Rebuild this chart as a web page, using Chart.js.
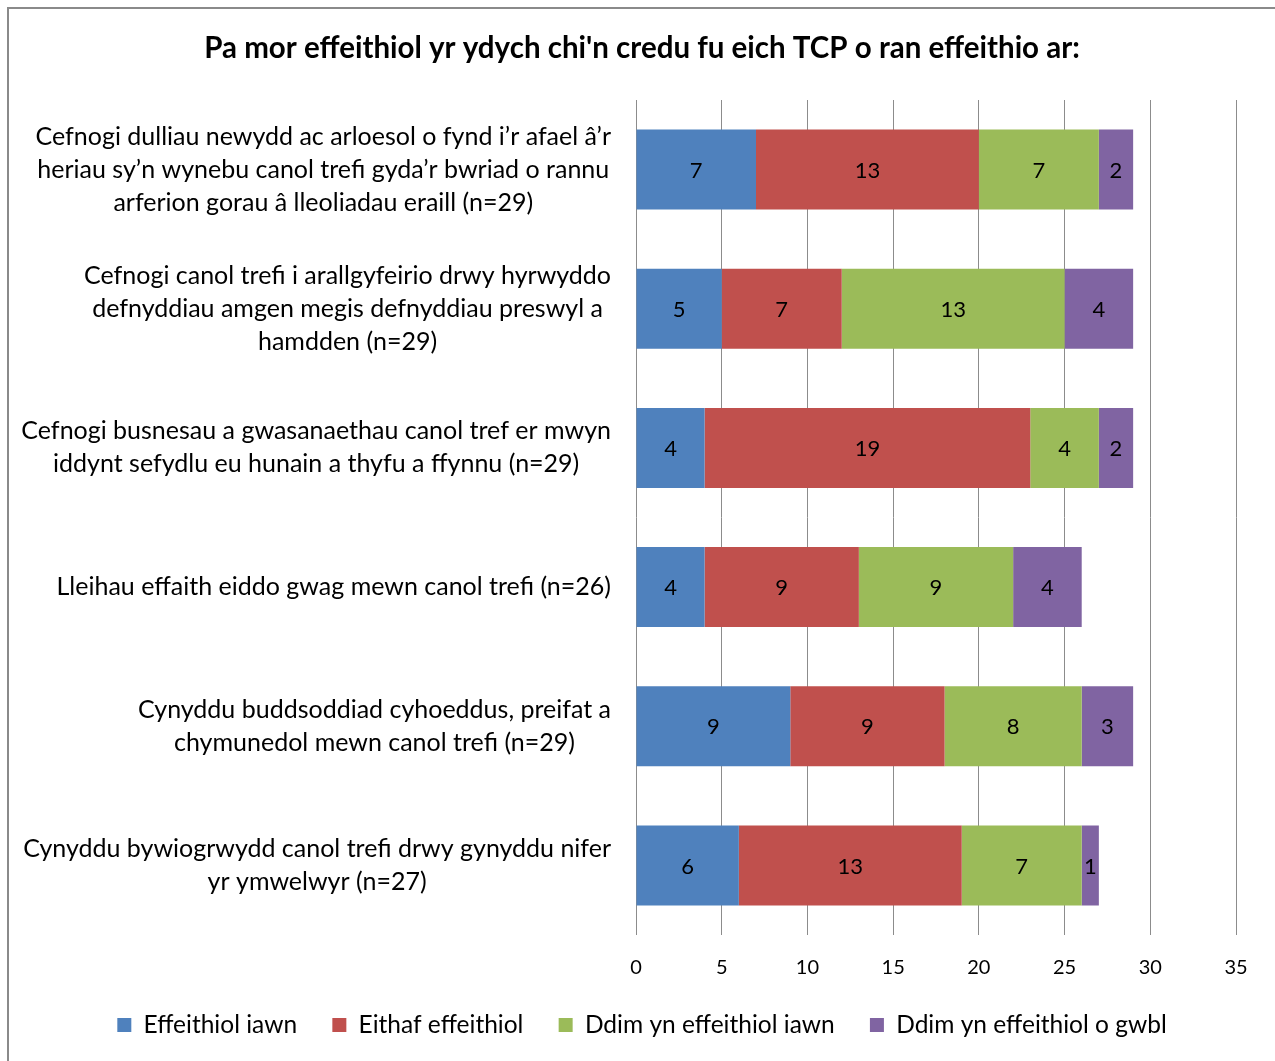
<!DOCTYPE html>
<html>
<head>
<meta charset="utf-8">
<script src="https://cdn.jsdelivr.net/npm/chart.js@4.4.0/dist/chart.umd.min.js"></script>
<style>
  html, body { margin: 0; padding: 0; background: #fff; }
  #wrap { width: 1275px; height: 1061px; }
</style>
</head>
<body>
<div id="wrap"><canvas id="grafico" width="1275" height="1061"></canvas></div>
<script>
// categorias (de arriba a abajo)
var categorias = [
  ["Cefnogi dulliau newydd ac arloesol o fynd i\u2019r afael \u00e2\u2019r", "heriau sy\u2019n wynebu canol trefi gyda\u2019r bwriad o rannu", "arferion gorau \u00e2 lleoliadau eraill (n=29)"],
  ["Cefnogi canol trefi i arallgyfeirio drwy hyrwyddo", "defnyddiau amgen megis defnyddiau preswyl a", "hamdden (n=29)"],
  ["Cefnogi busnesau a gwasanaethau canol tref er mwyn", "iddynt sefydlu eu hunain a thyfu a ffynnu (n=29)"],
  ["Lleihau effaith eiddo gwag mewn canol trefi (n=26)"],
  ["Cynyddu buddsoddiad cyhoeddus, preifat a", "chymunedol mewn canol trefi (n=29)"],
  ["Cynyddu bywiogrwydd canol trefi drwy gynyddu nifer", "yr ymwelwyr (n=27)"]
];
var series = ["Effeithiol iawn", "Eithaf effeithiol", "Ddim yn effeithiol iawn", "Ddim yn effeithiol o gwbl"];
var effeithiolIawn   = [7, 5, 4, 4, 9, 6];
var eithafEffeithiol = [13, 7, 19, 9, 9, 13];
var ddimIawn         = [7, 13, 4, 9, 8, 7];
var ddimOGwbl        = [2, 4, 2, 4, 3, 1];
var colores = ["#4F81BD", "#C0504D", "#9BBB59", "#8064A2"];
var ticksX = [0, 5, 10, 15, 20, 25, 30, 35];

var titulo = "Pa mor effeithiol yr ydych chi'n credu fu eich TCP o ran effeithio ar:";
var fuente = "Lato, 'Open Sans', sans-serif";

Chart.defaults.font.family = fuente;
Chart.defaults.color = "#000";

// marco gris arriba e izquierda
var marco = {
  id: "marco",
  beforeDraw: function(chart) {
    var ctx = chart.ctx;
    ctx.save();
    ctx.fillStyle = "#fff";
    ctx.fillRect(0, 0, chart.width, chart.height);
    ctx.fillStyle = "#8a8a8a";
    ctx.fillRect(7, 7, chart.width - 7, 2);
    ctx.fillRect(7, 7, 2, chart.height - 7);
    ctx.restore();
  }
};

// etiquetas de categoria: bloque alineado a la derecha, lineas centradas
var etiquetasCat = {
  id: "etiquetasCat",
  afterDraw: function(chart) {
    var ctx = chart.ctx;
    var yScale = chart.scales.y;
    var derecha = chart.chartArea.left - 25;
    ctx.save();
    ctx.font = "25px " + fuente;
    ctx.fillStyle = "#000";
    ctx.textAlign = "center";
    ctx.textBaseline = "middle";
    for (var i = 0; i < categorias.length; i++) {
      var lineas = categorias[i];
      var maxW = 0;
      for (var j = 0; j < lineas.length; j++) {
        maxW = Math.max(maxW, ctx.measureText(lineas[j]).width);
      }
      var cx = derecha - maxW / 2;
      var cy = yScale.getPixelForValue(i);
      var inicio = cy - (lineas.length - 1) * 33 / 2;
      for (var j = 0; j < lineas.length; j++) {
        ctx.fillText(lineas[j], cx, inicio + j * 33);
      }
    }
    ctx.restore();
  }
};

// valores dentro de cada segmento
var valores = {
  id: "valores",
  afterDatasetsDraw: function(chart) {
    var ctx = chart.ctx;
    ctx.save();
    ctx.font = "22px " + fuente;
    ctx.fillStyle = "#000";
    ctx.textAlign = "center";
    ctx.textBaseline = "middle";
    chart.data.datasets.forEach(function(ds, d) {
      var meta = chart.getDatasetMeta(d);
      meta.data.forEach(function(bar, i) {
        var v = ds.data[i];
        if (!v) return;
        ctx.fillText(String(v), (bar.x + bar.base) / 2, bar.y + 1);
      });
    });
    ctx.restore();
  }
};

var datos = [effeithiolIawn, eithafEffeithiol, ddimIawn, ddimOGwbl];
var conjuntos = [];
for (var k = 0; k < series.length; k++) {
  conjuntos.push({
    label: series[k],
    data: datos[k],
    backgroundColor: colores[k],
    borderWidth: 0,
    barPercentage: 0.575,
    categoryPercentage: 1
  });
}

var grafico = new Chart(document.getElementById("grafico").getContext("2d"), {
  type: "bar",
  data: {
    labels: categorias,
    datasets: conjuntos
  },
  options: {
    indexAxis: "y",
    responsive: false,
    animation: false,
    devicePixelRatio: 1,
    layout: { padding: { left: 48, right: 39, top: 0, bottom: 13.75 } },
    scales: {
      x: {
        stacked: true,
        min: 0,
        max: 35,
        afterBuildTicks: function(scale) {
          scale.ticks = ticksX.map(function(v) { return { value: v }; });
        },
        afterFit: function(scale) { scale.height = 42.5; },
        grid: { color: "#8c8c8c", lineWidth: 1, drawTicks: false },
        border: { display: false },
        ticks: { padding: 22.5, font: { size: 20, lineHeight: 1 }, color: "#000" }
      },
      y: {
        stacked: true,
        afterFit: function(scale) { scale.width = 588; },
        grid: { display: false },
        border: { display: false },
        ticks: { display: false }
      }
    },
    plugins: {
      title: {
        display: true,
        text: titulo,
        font: { size: 29.5, weight: "bold" },
        color: "#000",
        padding: { top: 30.3, bottom: 34.3 }
      },
      legend: {
        position: "bottom",
        labels: {
          boxWidth: 14,
          boxHeight: 14,
          padding: 35.25,
          font: { size: 24.5 },
          color: "#000"
        }
      },
      tooltip: { enabled: false }
    }
  },
  plugins: [marco, etiquetasCat, valores]
});
</script>
</body>
</html>
